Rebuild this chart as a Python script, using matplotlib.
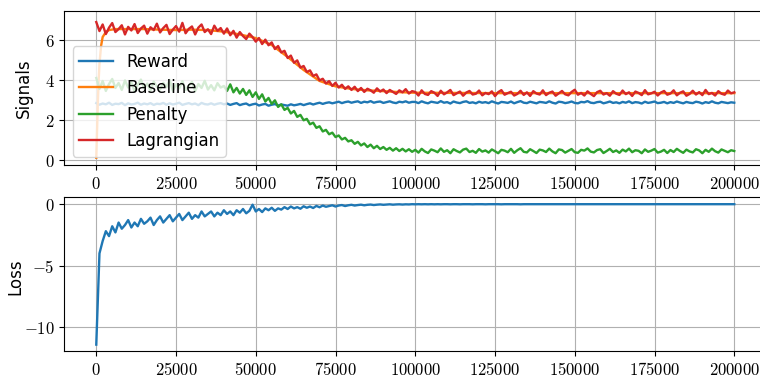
import numpy as np
import matplotlib
matplotlib.use('Agg')
import matplotlib.pyplot as plt
from matplotlib.ticker import FuncFormatter

plt.rcParams['mathtext.fontset'] = 'cm'
plt.rcParams['font.size'] = 12

# training steps, sampled every 1000
steps = np.arange(0, 200001, 1000)

reward = [
    2.84, 2.76, 2.82, 2.78, 2.86, 2.75, 2.81, 2.79, 2.85, 2.74, 2.83, 2.77, 2.80, 2.86, 2.76, 2.82, 2.78, 2.84, 2.75, 2.81,
    2.79, 2.85, 2.76, 2.83, 2.77, 2.81, 2.86, 2.75, 2.80, 2.84, 2.78, 2.82, 2.74, 2.85, 2.79, 2.77, 2.83, 2.76, 2.81, 2.84,
    2.78, 2.82, 2.75, 2.80, 2.84, 2.74, 2.79, 2.82, 2.73, 2.78, 2.81, 2.72, 2.77, 2.80, 2.71, 2.76, 2.79, 2.72, 2.77, 2.74,
    2.71, 2.78, 2.73, 2.76, 2.80, 2.74, 2.79, 2.83, 2.77, 2.82, 2.86, 2.80, 2.85, 2.88, 2.83, 2.87, 2.91, 2.84, 2.89, 2.92,
    2.86, 2.90, 2.93, 2.85, 2.91, 2.88, 2.94, 2.86, 2.90, 2.92, 2.85, 2.89, 2.93, 2.87, 2.84, 2.91, 2.88, 2.93, 2.86, 2.90,
    2.90, 2.84, 2.93, 2.87, 2.83, 2.91, 2.88, 2.85, 2.94, 2.86, 2.89, 2.82, 2.92, 2.87, 2.84, 2.90, 2.93, 2.85, 2.88, 2.83,
    2.91, 2.86, 2.89, 2.84, 2.93, 2.87, 2.82, 2.90, 2.88, 2.85, 2.92, 2.83, 2.89, 2.94, 2.86, 2.84, 2.91, 2.87, 2.83, 2.90,
    2.88, 2.85, 2.93, 2.86, 2.82, 2.91, 2.89, 2.84, 2.87, 2.92, 2.85, 2.83, 2.90, 2.88, 2.94, 2.86, 2.84, 2.89, 2.91, 2.83,
    2.87, 2.92, 2.85, 2.88, 2.83, 2.90, 2.86, 2.93, 2.84, 2.89, 2.87, 2.82, 2.91, 2.85, 2.88, 2.92, 2.84, 2.86, 2.90, 2.83,
    2.89, 2.85, 2.92, 2.87, 2.83, 2.90, 2.86, 2.84, 2.91, 2.88, 2.82, 2.89, 2.85, 2.93, 2.86, 2.83, 2.90, 2.87, 2.84, 2.88, 2.86,
]

# baseline is sampled on its own (fast warm-up at the start)
baseline_steps = [0, 250, 500, 750, 1000, 1500, 2000, 3000, 4000, 6000, 10000, 15000, 20000, 25000,
                  30000, 35000, 40000, 45000, 50000, 55000, 60000, 65000, 70000, 75000, 80000,
                  85000, 90000, 95000, 100000, 125000, 150000, 175000, 200000]
baseline = [0.10, 1.5, 2.9, 4.0, 4.8, 5.7, 6.15, 6.4, 6.5, 6.55, 6.55, 6.55, 6.52, 6.50,
            6.52, 6.50, 6.42, 6.28, 6.10, 5.75, 5.15, 4.50, 3.95, 3.68, 3.55,
            3.48, 3.44, 3.39, 3.36, 3.34, 3.34, 3.34, 3.34]

penalty = [
    4.10, 3.55, 3.95, 3.45, 3.80, 4.05, 3.60, 3.85, 3.50, 3.98, 3.62, 3.88, 3.42, 3.76, 4.02, 3.58, 3.82, 3.48, 3.92, 3.66,
    3.52, 3.86, 3.64, 4.00, 3.46, 3.78, 3.58, 3.94, 3.50, 3.72, 3.90, 3.44, 3.80, 3.60, 3.96, 3.52, 3.74, 3.48, 3.84, 3.62,
    3.70, 3.45, 3.78, 3.38, 3.60, 3.32, 3.55, 3.25, 3.48, 3.15, 3.38, 3.05, 3.28, 2.92, 3.10, 2.80, 2.98, 2.65, 2.78, 2.50,
    2.60, 2.32, 2.45, 2.15, 2.25, 1.98, 2.05, 1.78, 1.86, 1.60, 1.68, 1.42, 1.50, 1.28, 1.36, 1.14, 1.22, 1.02, 1.10, 0.92,
    0.98, 0.80, 0.90, 0.72, 0.82, 0.64, 0.76, 0.58, 0.70, 0.54, 0.64, 0.50, 0.60, 0.46, 0.58, 0.44, 0.55, 0.42, 0.53, 0.40,
    0.50, 0.36, 0.55, 0.42, 0.34, 0.52, 0.46, 0.38, 0.57, 0.40, 0.48, 0.33, 0.53, 0.44, 0.37, 0.51, 0.56, 0.39, 0.45, 0.35,
    0.54, 0.41, 0.47, 0.36, 0.52, 0.43, 0.33, 0.50, 0.46, 0.38, 0.55, 0.35, 0.48, 0.58, 0.40, 0.37, 0.53, 0.44, 0.34, 0.51,
    0.47, 0.39, 0.56, 0.42, 0.33, 0.52, 0.49, 0.36, 0.45, 0.54, 0.38, 0.35, 0.50, 0.46, 0.57, 0.41, 0.37, 0.49, 0.53, 0.34,
    0.44, 0.55, 0.39, 0.47, 0.35, 0.51, 0.42, 0.56, 0.38, 0.48, 0.45, 0.33, 0.52, 0.40, 0.46, 0.54, 0.36, 0.41, 0.50, 0.34,
    0.49, 0.39, 0.55, 0.44, 0.35, 0.51, 0.42, 0.37, 0.53, 0.47, 0.33, 0.50, 0.40, 0.56, 0.43, 0.36, 0.52, 0.45, 0.38, 0.48, 0.44,
]

lagrangian = [
    6.90, 6.45, 6.78, 6.30, 6.62, 6.85, 6.40, 6.55, 6.74, 6.28, 6.66, 6.48, 6.80, 6.35, 6.58, 6.72, 6.32, 6.64, 6.50, 6.82,
    6.38, 6.60, 6.76, 6.30, 6.52, 6.70, 6.42, 6.86, 6.34, 6.56, 6.68, 6.28, 6.62, 6.78, 6.40, 6.54, 6.30, 6.72, 6.46, 6.60,
    6.32, 6.58, 6.24, 6.46, 6.12, 6.40, 6.20, 6.05, 6.32, 6.15, 5.92, 6.10, 5.80, 6.02, 5.74, 5.88, 5.55, 5.70, 5.38, 5.46,
    5.10, 5.22, 4.86, 4.98, 4.62, 4.70, 4.40, 4.48, 4.20, 4.28, 3.98, 4.06, 3.82, 3.94, 3.70, 3.86, 3.62, 3.76, 3.55, 3.68,
    3.50, 3.66, 3.44, 3.60, 3.40, 3.56, 3.48, 3.36, 3.58, 3.42, 3.52, 3.34, 3.50, 3.40, 3.30, 3.48, 3.38, 3.54, 3.32, 3.44,
    3.40, 3.22, 3.48, 3.30, 3.25, 3.44, 3.36, 3.20, 3.46, 3.28, 3.38, 3.50, 3.24, 3.33, 3.42, 3.21, 3.37, 3.45, 3.27, 3.31,
    3.47, 3.23, 3.35, 3.29, 3.43, 3.19, 3.39, 3.49, 3.26, 3.34, 3.41, 3.22, 3.30, 3.46, 3.25, 3.38, 3.20, 3.44, 3.32, 3.27,
    3.48, 3.24, 3.36, 3.42, 3.21, 3.33, 3.45, 3.28, 3.23, 3.40, 3.51, 3.26, 3.35, 3.22, 3.43, 3.30, 3.19, 3.39, 3.46, 3.27,
    3.34, 3.21, 3.44, 3.31, 3.25, 3.47, 3.29, 3.38, 3.20, 3.42, 3.35, 3.24, 3.49, 3.28, 3.33, 3.41, 3.22, 3.37, 3.45, 3.26,
    3.32, 3.48, 3.23, 3.36, 3.43, 3.21, 3.30, 3.46, 3.27, 3.39, 3.24, 3.50, 3.29, 3.35, 3.22, 3.44, 3.31, 3.26, 3.47, 3.33, 3.38,
]

loss = [
    -11.4, -4.0, -3.0, -2.2, -2.6, -1.8, -2.3, -1.5, -2.0, -1.7, -1.3, -1.9, -1.5, -1.8, -1.2, -1.6, -1.4, -1.1, -1.7, -1.3,
    -1.0, -1.5, -1.2, -0.9, -1.4, -1.1, -0.8, -1.3, -1.0, -0.7, -1.2, -0.9, -1.1, -0.6, -1.0, -0.8, -0.6, -1.0, -0.7, -0.9,
    -0.5, -0.8, -0.6, -0.9, -0.5, -0.7, -0.4, -0.75, -0.55, -0.05, -0.6, -0.4, -0.65, -0.35, -0.5, -0.3, -0.55, -0.35, -0.45, -0.25,
    -0.4, -0.2, -0.35, -0.25, -0.38, -0.18, -0.3, -0.2, -0.32, -0.15, -0.26, -0.12, -0.22, -0.16, -0.1, -0.2, -0.12, -0.08, -0.16, -0.1,
    -0.06, -0.12, -0.08, -0.05, -0.1, -0.06, -0.04, -0.08, -0.05, -0.03, -0.06, -0.04, -0.02, -0.05, -0.03, -0.02, -0.04, -0.02, -0.03, -0.01,
    -0.02, -0.01, -0.02, -0.01, -0.02, -0.01, -0.02, -0.01, -0.02, -0.01, -0.01, -0.02, -0.01, -0.01, -0.02, -0.01, -0.01, -0.01, -0.02, -0.01,
    -0.01, -0.01, -0.02, -0.01, -0.01, -0.01, -0.01, -0.02, -0.01, -0.01, -0.01, -0.01, -0.01, -0.02, -0.01, -0.01, -0.01, -0.01, -0.01, -0.01,
    -0.01, -0.01, -0.01, -0.01, -0.01, -0.01, -0.01, -0.01, -0.01, -0.01, -0.01, -0.01, -0.01, -0.01, -0.01, -0.01, -0.01, -0.01, -0.01, -0.01,
    -0.01, -0.01, -0.01, -0.01, -0.01, -0.01, -0.01, -0.01, -0.01, -0.01, -0.01, -0.01, -0.01, -0.01, -0.01, -0.01, -0.01, -0.01, -0.01, -0.01,
    -0.01, -0.01, -0.01, -0.01, -0.01, -0.01, -0.01, -0.01, -0.01, -0.01, -0.01, -0.01, -0.01, -0.01, -0.01, -0.01, -0.01, -0.01, -0.01, -0.01, -0.01,
]

# tick labels in Computer Modern, like a LaTeX-rendered figure
cm_ticks = FuncFormatter(lambda v, pos: '$%d$' % v)

fig = plt.figure(figsize=(7.6, 3.78), dpi=100)
# the original image is cropped on the right, so the axes run past the figure edge
ax1 = fig.add_axes([0.0847, 0.5635, 0.9234, 0.4082])
ax2 = fig.add_axes([0.0847, 0.0720, 0.9234, 0.4074])

lw = 1.7
ax1.plot(steps, reward, lw=lw, label='Reward')
ax1.plot(baseline_steps, baseline, lw=lw, label='Baseline')
ax1.plot(steps, penalty, lw=lw, label='Penalty')
ax1.plot(steps, lagrangian, lw=lw, label='Lagrangian')
ax1.set_xlim(-10000, 210000)
ax1.set_ylim(-0.26, 7.47)
ax1.set_ylabel('Signals')
ax1.yaxis.set_label_coords(-0.0443, 0.5)
ax1.grid(True)
ax1.legend(loc='lower left', fontsize=12)

ax2.plot(steps, loss, lw=lw)
ax2.set_xlim(-10000, 210000)
ax2.set_ylim(-11.9, 0.59)
ax2.set_ylabel('Loss')
ax2.yaxis.set_label_coords(-0.0576, 0.48)
ax2.grid(True)

for ax in (ax1, ax2):
    ax.xaxis.set_major_formatter(cm_ticks)
    ax.yaxis.set_major_formatter(cm_ticks)

fig.savefig('out.png', dpi=100)
